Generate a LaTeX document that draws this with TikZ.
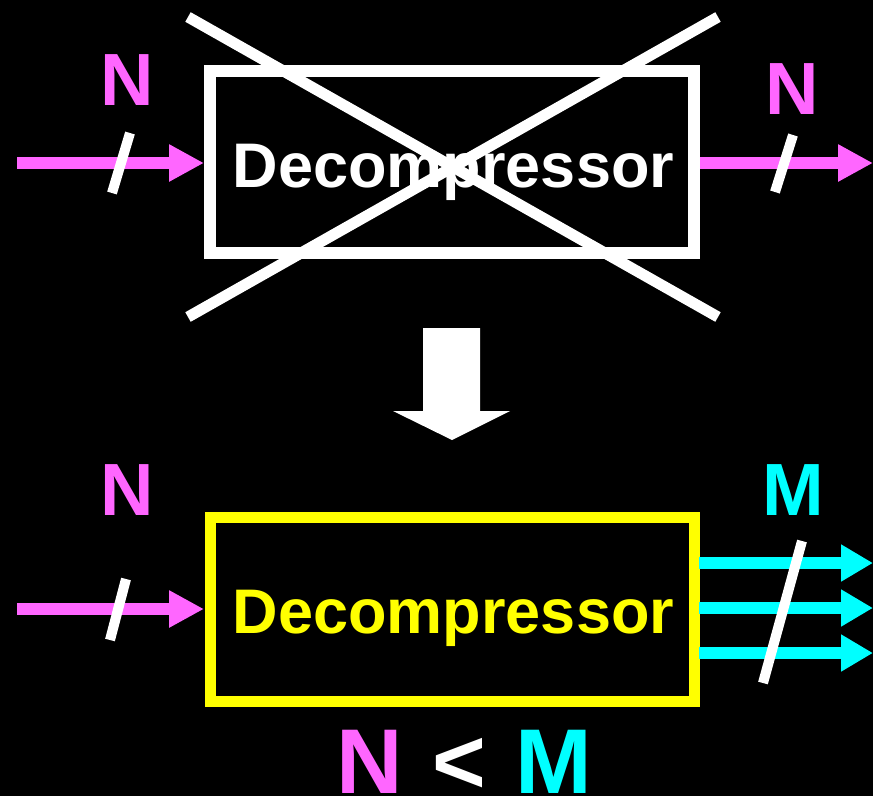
\documentclass[tikz,border=0pt]{standalone}
\usepackage{fontspec}
\setmainfont{Liberation Sans}
\usetikzlibrary{arrows.meta}
\definecolor{pinkc}{RGB}{255,102,255}
\definecolor{cyanc}{RGB}{0,255,255}
\definecolor{yelc}{RGB}{255,255,0}
\tikzset{
  lbl/.style={inner sep=0pt, anchor=base, font=\bfseries\fontsize{74}{80}\selectfont},
  boxtxt/.style={inner sep=0pt, anchor=base, font=\bfseries\fontsize{63}{70}\selectfont},
  pinkarrow/.style={draw=pinkc, line width=12pt, -{Triangle[length=35pt,width=35pt]}},
  cyanarrow/.style={draw=cyanc, line width=12pt, -{Triangle[length=32pt,width=35pt]}},
  slash/.style={draw=white, line width=10pt},
  crossline/.style={draw=white, line width=11pt},
}
\begin{document}
\begin{tikzpicture}[x=1pt,y=-1pt]
\useasboundingbox[fill=black] (0,0) rectangle (873,796);
% top box
\draw[white, line width=12pt] (210,71) rectangle (694,253);
\node[boxtxt, text=white] (t1) at (453.5,187) {Decompressor};
\coordinate (tb) at (210,163);
\coordinate (tbr) at (694,163);
\coordinate (tin) at (17,163);
\coordinate (tout) at (873,163);
\draw[pinkarrow] (tin) -- ([xshift=-6pt]tb);
\draw[pinkarrow] ([xshift=6pt]tbr) -- (tout);
\coordinate (s1a) at (130,133); \coordinate (s1b) at (112,193);
\draw[slash] (s1a) -- (s1b);
\coordinate (s2a) at (793,135); \coordinate (s2b) at (775,192);
\draw[slash] (s2a) -- (s2b);
\node[lbl, text=pinkc] (n1) at (127.5,105) {N};
\node[lbl, text=pinkc] (n2) at (792.5,114) {N};
% cross
\coordinate (c1) at (188,17); \coordinate (c2) at (718,317);
\coordinate (c3) at (718,17); \coordinate (c4) at (188,317);
\draw[crossline] (c1) -- (c2);
\draw[crossline] (c3) -- (c4);
% down arrow
\fill[white] (423,328) -- (480,328) -- (480,411) -- (510,411) -- (452,440) -- (393,411) -- (423,411) -- cycle;
% bottom box
\draw[yelc, line width=11pt] (210,517) rectangle (694,701);
\node[boxtxt, text=yelc] (t2) at (453.5,633) {Decompressor};
\coordinate (bin) at (17,609);
\coordinate (bb) at (204,609);
\draw[pinkarrow] (bin) -- (bb);
\coordinate (s3a) at (126,579); \coordinate (s3b) at (110,640);
\draw[slash] (s3a) -- (s3b);
\node[lbl, text=pinkc] (n3) at (127.5,515) {N};
\foreach \yy in {563,608,653} {
  \coordinate (o\yy) at (699,\yy);
  \coordinate (e\yy) at (873,\yy);
  \draw[cyanarrow] (o\yy) -- (e\yy);
}
\coordinate (s4a) at (802,541); \coordinate (s4b) at (763,683);
\draw[slash] (s4a) -- (s4b);
\node[lbl, text=cyanc] (m1) at (793.5,515) {M};
% N < M
\node[inner sep=0pt, anchor=base, font=\bfseries\fontsize{92}{100}\selectfont, text=pinkc] (bn) at (370,793) {N};
\node[inner sep=0pt, anchor=base, font=\bfseries\fontsize{92}{100}\selectfont, text=white] (blt) at (459,793) {<};
\node[inner sep=0pt, anchor=base, font=\bfseries\fontsize{92}{100}\selectfont, text=cyanc] (bm) at (553.5,793) {M};
\end{tikzpicture}
\end{document}
